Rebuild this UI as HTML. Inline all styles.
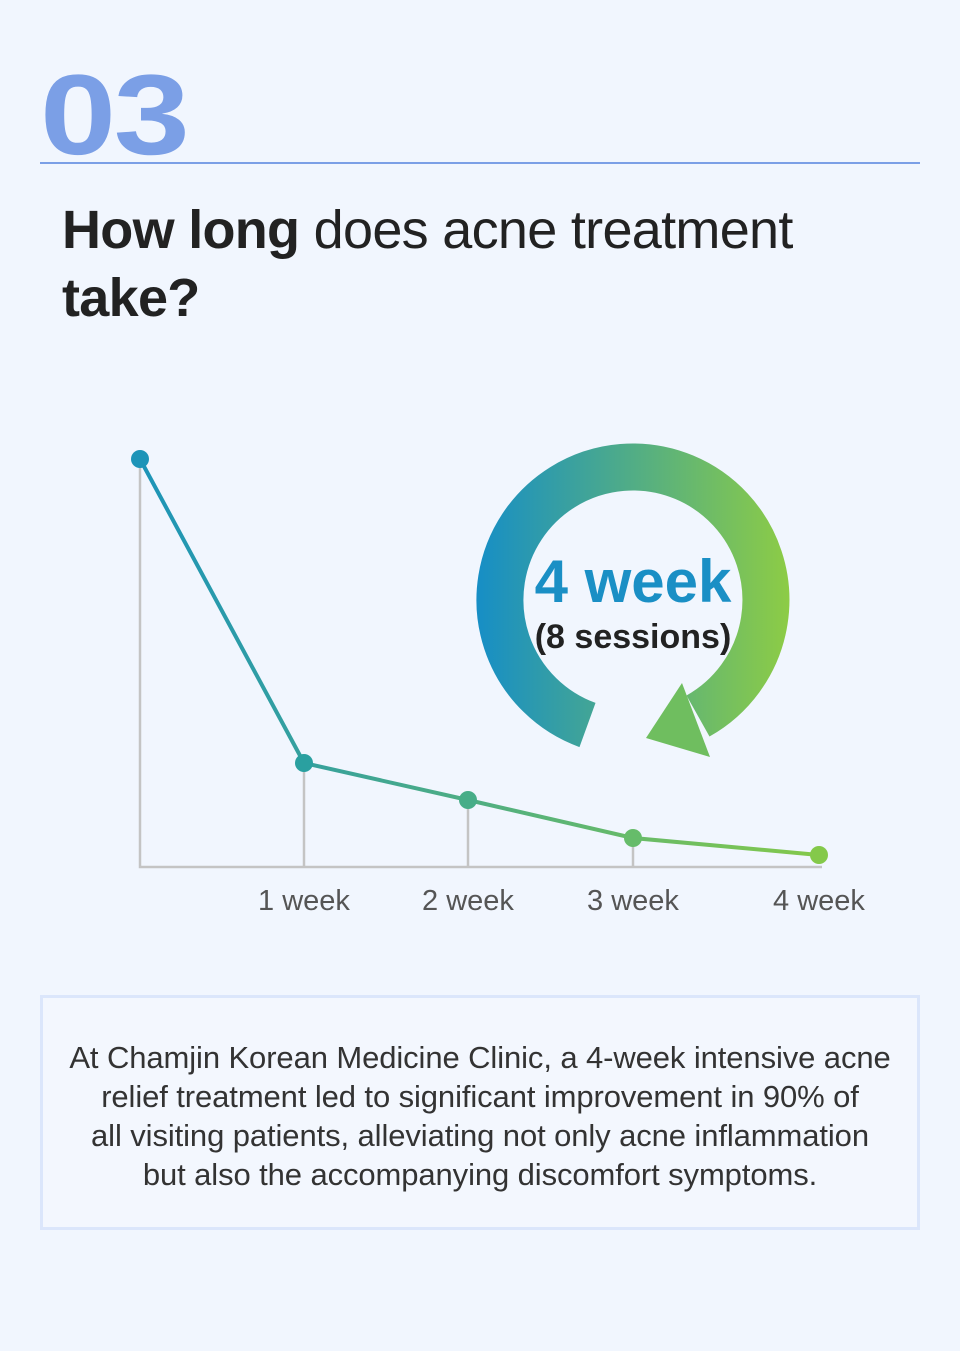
<!DOCTYPE html>
<html><head><meta charset="utf-8"><style>
body{margin:0;width:960px;height:1351px;background:#f1f6fe;font-family:"Liberation Sans","Noto Sans CJK KR",sans-serif;position:relative;overflow:hidden}
.num{position:absolute;left:40px;top:59px;font-size:114px;font-weight:bold;color:#7b9fe6;letter-spacing:-2px;line-height:1;font-family:"Liberation Sans",sans-serif;transform:scaleX(1.2);transform-origin:left}
.rule{position:absolute;left:40px;top:162px;width:880px;height:2px;background:#7b9fe6}
.title{position:absolute;left:62px;top:196px;font-size:54px;line-height:68px;color:#222;letter-spacing:-0.7px}
.box{position:absolute;left:40px;top:995px;width:874px;height:229px;border:3px solid #dbe6fb;background:#f3f7fe;text-align:center;font-size:31px;line-height:39px;color:#333;letter-spacing:-0.1px}
.box p{margin:40px 0 0}
</style></head><body>
<div class="num">03</div><div class="rule"></div>
<div class="title"><b>How long</b> does acne treatment<br><b>take?</b></div>
<svg width="960" height="1351" style="position:absolute;left:0;top:0">
<defs>
<linearGradient id="g" x1="476" y1="0" x2="790" y2="0" gradientUnits="userSpaceOnUse"><stop offset="0" stop-color="#168ec6"/><stop offset="1" stop-color="#8dcc45"/></linearGradient>
<linearGradient id="l" x1="140" y1="0" x2="820" y2="0" gradientUnits="userSpaceOnUse"><stop offset="0" stop-color="#1d94b8"/><stop offset="1" stop-color="#84c94a"/></linearGradient>
</defs>
<path d="M587.5 725 A133 133 0 1 1 698 716" fill="none" stroke="url(#g)" stroke-width="47"/>
<polygon points="646,738 682,683 710,757" fill="#6fbe5f"/>
<text x="633" y="602" text-anchor="middle" font-size="60" font-weight="bold" fill="#1a8fc5">4 week</text>
<text x="633" y="648" text-anchor="middle" font-size="34" font-weight="bold" fill="#222">(8 sessions)</text>
<g stroke="#c4c4c4" stroke-width="2.5" fill="none">
<path d="M140 459 V867 H822"/><path d="M304 763V867M468 800V867M633 838V867"/>
</g>
<polyline points="140,459 304,763 468,800 633,838 819,855" fill="none" stroke="url(#l)" stroke-width="4"/>
<g><circle cx="140" cy="459" r="9" fill="#1d94b8"/><circle cx="304" cy="763" r="9" fill="#2aa0a0"/><circle cx="468" cy="800" r="9" fill="#47ad88"/><circle cx="633" cy="838" r="9" fill="#66bc6a"/><circle cx="819" cy="855" r="9" fill="#84c94a"/></g>
<g font-size="29" fill="#555" text-anchor="middle"><text x="304" y="910">1 week</text><text x="468" y="910">2 week</text><text x="633" y="910">3 week</text><text x="819" y="910">4 week</text></g>
</svg>
<div class="box"><p>At Chamjin Korean Medicine Clinic, a 4-week intensive acne<br>relief treatment led to significant improvement in 90% of<br>all visiting patients, alleviating not only acne inflammation<br>but also the accompanying discomfort symptoms.</p></div>
</body></html>
